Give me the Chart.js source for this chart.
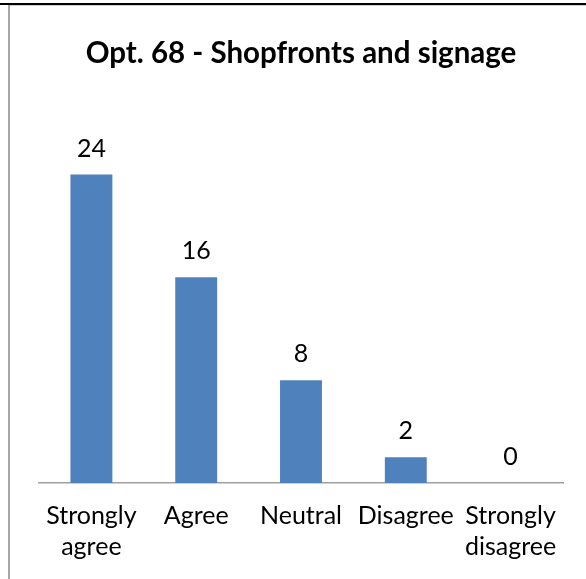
<!DOCTYPE html>
<html>
<head>
<meta charset="utf-8">
<script src="https://cdn.jsdelivr.net/npm/chart.js@4/dist/chart.umd.min.js"></script>
<style>
  html, body { margin: 0; padding: 0; background: #fff; }
  #wrap { position: relative; width: 586px; height: 579px; }
  #topLine { position: absolute; left: 0; top: 3px; width: 586px; height: 2px; background: #000; }
  #leftLine { position: absolute; left: 8px; top: 5px; width: 2px; height: 574px; background: #a6a6a6; }
  #innerTop { position: absolute; left: 8px; top: 5px; width: 578px; height: 1px; background: #d0d0d0; }
  canvas { position: absolute; left: 0; top: 0; }
</style>
</head>
<body>
<div id="wrap">
  <canvas id="chart"></canvas>
  <div id="innerTop"></div>
  <div id="leftLine"></div>
  <div id="topLine"></div>
</div>
<script>
const TITLE = "Opt. 68 - Shopfronts and signage";
const CATEGORIES = [["Strongly", "agree"], "Agree", "Neutral", "Disagree", ["Strongly", "disagree"]];
const VALUES = [24, 16, 8, 2, 0];
const BAR_COLOR = "#4f81bd";
const FONT = "Lato, 'Open Sans', sans-serif";

// draws the number above each bar
const valueLabels = {
  id: "valueLabels",
  afterDatasetsDraw(chart){
    const ctx = chart.ctx;
    const meta = chart.getDatasetMeta(0);
    ctx.save();
    ctx.font = "25px " + FONT;
    ctx.fillStyle = "#000";
    ctx.textAlign = "center";
    ctx.textBaseline = "middle";
    meta.data.forEach((bar, i) => {
      ctx.fillText(String(VALUES[i]), bar.x, bar.y - 26);
    });
    ctx.restore();
  }
};

new Chart(document.getElementById("chart"), {
  type: "bar",
  data: {
    labels: CATEGORIES,
    datasets: [{
      data: VALUES,
      backgroundColor: BAR_COLOR,
      borderWidth: 0,
      categoryPercentage: 1,
      barPercentage: 0.4
    }]
  },
  options: {
    responsive: true,
    maintainAspectRatio: false,
    animation: false,
    layout: {
      padding: { left: 39, right: 23, top: 20, bottom: 8 }
    },
    plugins: {
      legend: { display: false },
      tooltip: { enabled: false },
      title: {
        display: true,
        text: TITLE,
        color: "#000",
        font: { family: FONT, size: 29.5, weight: "bold", lineHeight: 1.2 },
        padding: { top: 15.3, bottom: 26.6 }
      }
    },
    scales: {
      x: {
        grid: { display: false },
        border: { display: true, color: "#a0a0a0", width: 1.5 },
        ticks: {
          color: "#000",
          padding: 9,
          maxRotation: 0,
          autoSkip: false,
          font: { family: FONT, size: 25, lineHeight: 1.24 }
        }
      },
      y: {
        display: false,
        min: 0,
        max: 30
      }
    }
  },
  plugins: [valueLabels]
});
</script>
</body>
</html>
